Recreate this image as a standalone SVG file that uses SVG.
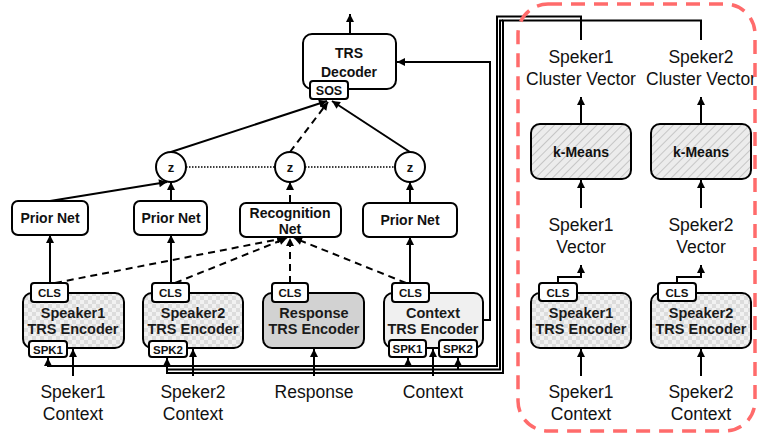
<svg xmlns="http://www.w3.org/2000/svg" width="758" height="437" viewBox="0 0 758 437">
  <defs>
    <pattern id="checker" width="8" height="8" patternUnits="userSpaceOnUse">
      <rect width="8" height="8" fill="#f1f1f1"/>
      <rect width="4" height="4" fill="#dcdcdc"/>
      <rect x="4" y="4" width="4" height="4" fill="#dcdcdc"/>
    </pattern>
    <pattern id="hatch" width="6" height="6" patternUnits="userSpaceOnUse" patternTransform="rotate(45)">
      <rect width="6" height="6" fill="#ececec"/>
      <line x1="0" y1="0" x2="0" y2="6" stroke="#bdbdbd" stroke-width="1.6"/>
    </pattern>
    <marker id="ah" viewBox="0 0 10 10" refX="10" refY="5" markerWidth="9" markerHeight="8" markerUnits="userSpaceOnUse" orient="auto">
      <path d="M0,0 L10,5 L0,10 z" fill="#000"/>
    </marker>
  </defs>
  <style>
    .box { stroke: #000; stroke-width: 2; fill: #fff; }
    .tag { stroke: #000; stroke-width: 2; fill: #fff; }
    .b { font-family: "Liberation Sans", Arial, sans-serif; font-weight: bold; font-size: 14px; text-anchor: middle; fill: #111; }
    .t { font-family: "Liberation Sans", Arial, sans-serif; font-weight: bold; font-size: 11.5px; text-anchor: middle; fill: #111; }
    .z { font-family: "Liberation Sans", Arial, sans-serif; font-weight: bold; font-size: 13px; text-anchor: middle; fill: #111; }
    .sos { font-family: "Liberation Sans", Arial, sans-serif; font-weight: bold; font-size: 12.5px; text-anchor: middle; fill: #111; }
    .lbl { font-family: "Liberation Sans", Arial, sans-serif; font-size: 17.5px; text-anchor: middle; fill: #111; }
    .enc { font-family: "Liberation Sans", Arial, sans-serif; font-weight: bold; font-size: 14.5px; text-anchor: middle; fill: #1a1a1a; }
    .c { fill: none; stroke: #000; stroke-width: 2; }
    .a { marker-end: url(#ah); }
    .d { stroke-dasharray: 7 5; }
    .dot { fill: none; stroke: #000; stroke-width: 1.5; stroke-dasharray: 1.5 1.5; }
  </style>

  <!-- connectors -->
  <g id="connectors">
    <!-- dotted link between latent variables -->
    <line class="dot" x1="186" y1="167" x2="275" y2="167"/>
    <line class="dot" x1="305" y1="167" x2="395" y2="167"/>

    <!-- encoders to prior nets -->
    <path class="c a" d="M50,283 L50,235"/>
    <path class="c a" d="M171,283 L171,235"/>
    <path class="c a" d="M410,283 L410,237"/>

    <!-- encoders to recognition net -->
    <path class="c d a" d="M55,283 L285,238"/>
    <path class="c d a" d="M175,283 L287,238"/>
    <path class="c d a" d="M290,283 L290,238"/>
    <path class="c d a" d="M406,283 L294,238"/>

    <!-- nets to latent z -->
    <path class="c a" d="M50,201 L167,182"/>
    <path class="c a" d="M171,201 L171,182"/>
    <path class="c d a" d="M290,202 L290,182"/>
    <path class="c a" d="M410,203 L410,182"/>

    <!-- latent z to decoder SOS -->
    <path class="c a" d="M171,152 L327,101"/>
    <path class="c d a" d="M290,152 L328,102"/>
    <path class="c a" d="M410,152 L332,101"/>

    <!-- decoder output -->
    <path class="c a" d="M350,34 L350,14"/>

    <!-- context encoder to decoder -->
    <path class="c a" d="M483,320 L490,320 L490,62 L397,62"/>

    <!-- inputs -->
    <path class="c a" d="M73,376 L73,349"/>
    <path class="c a" d="M193,376 L193,349"/>
    <path class="c a" d="M314,376 L314,349"/>
    <path class="c a" d="M433,376 L433,349"/>

    <!-- speaker cluster vectors routed back to SPK tokens -->
    <path class="c a" d="M581,40 L581,16.5 L497,16.5 L497,366 L48,366 L48,358"/>
    <path class="c a" d="M408,366 L408,358"/>
    <path class="c a" d="M701,40 L701,20.5 L503,20.5 L503,373 L167,373 L167,358"/>
    <path class="c" d="M503,20.5 L500,20.5 L500,369.5 L167,369.5"/>
    <path class="c a" d="M458,369.5 L458,358"/>

    <!-- clustering branch -->
    <path class="c a" d="M581,124 L581,97"/>
    <path class="c a" d="M701,124 L701,97"/>
    <path class="c a" d="M581,208 L581,180"/>
    <path class="c a" d="M701,208 L701,180"/>
    <path class="c a" d="M558,283 L558,277 L581,277 L581,265"/>
    <path class="c a" d="M677,283 L677,277 L701,277 L701,265"/>
    <path class="c a" d="M581,376 L581,349"/>
    <path class="c a" d="M701,376 L701,349"/>
  </g>

  <!-- decoder -->
  <g id="trs-decoder">
    <rect class="box" x="303" y="34" width="93" height="55" rx="9"/>
    <text class="b" x="349" y="58">TRS</text>
    <text class="b" x="349" y="77">Decoder</text>
    <rect class="tag" x="310" y="81" width="38" height="18" rx="3"/>
    <text class="sos" x="329" y="95">SOS</text>
  </g>

  <!-- latent variables -->
  <g id="z1">
    <circle class="box" cx="171" cy="167" r="15"/>
    <text class="z" x="171" y="172">z</text>
  </g>
  <g id="z2">
    <circle class="box" cx="290" cy="167" r="15"/>
    <text class="z" x="290" y="172">z</text>
  </g>
  <g id="z3">
    <circle class="box" cx="410" cy="167" r="15"/>
    <text class="z" x="410" y="172">z</text>
  </g>

  <!-- prior / recognition nets -->
  <g id="prior-net-1">
    <rect class="box" x="12" y="201" width="76" height="34" rx="6"/>
    <text class="b" x="50" y="223">Prior Net</text>
  </g>
  <g id="prior-net-2">
    <rect class="box" x="134" y="201" width="73" height="34" rx="6"/>
    <text class="b" x="171" y="223">Prior Net</text>
  </g>
  <g id="recognition-net">
    <rect class="box" x="240" y="203" width="101" height="34" rx="6"/>
    <text class="b" x="290" y="218">Recognition</text>
    <text class="b" x="290" y="234">Net</text>
  </g>
  <g id="prior-net-3">
    <rect class="box" x="363" y="203" width="94" height="34" rx="6"/>
    <text class="b" x="410" y="225">Prior Net</text>
  </g>

  <!-- encoders -->
  <g id="speaker1-encoder">
    <rect class="box" x="23" y="293" width="101" height="55" rx="9" style="fill:url(#checker)"/>
    <text class="enc" x="73" y="318">Speaker1</text>
    <text class="enc" x="73" y="334">TRS Encoder</text>
    <rect class="tag" x="31" y="283" width="37" height="19" rx="3"/>
    <text class="t" x="49.5" y="297">CLS</text>
    <rect class="tag" x="29" y="341" width="38" height="16" rx="3"/>
    <text class="t" x="48" y="353.5">SPK1</text>
  </g>
  <g id="speaker2-encoder">
    <rect class="box" x="143" y="293" width="100" height="55" rx="9" style="fill:url(#checker)"/>
    <text class="enc" x="193" y="318">Speaker2</text>
    <text class="enc" x="193" y="334">TRS Encoder</text>
    <rect class="tag" x="152" y="283" width="37" height="19" rx="3"/>
    <text class="t" x="170.5" y="297">CLS</text>
    <rect class="tag" x="149" y="341" width="38" height="16" rx="3"/>
    <text class="t" x="168" y="353.5">SPK2</text>
  </g>
  <g id="response-encoder">
    <rect class="box" x="263" y="293" width="101" height="55" rx="9" style="fill:#d2d2d2"/>
    <text class="enc" x="314" y="318">Response</text>
    <text class="enc" x="314" y="334">TRS Encoder</text>
    <rect class="tag" x="272" y="283" width="36" height="19" rx="3"/>
    <text class="t" x="290" y="297">CLS</text>
  </g>
  <g id="context-encoder">
    <rect class="box" x="384" y="293" width="99" height="55" rx="9" style="fill:#f0f0f0"/>
    <text class="enc" x="433" y="318">Context</text>
    <text class="enc" x="433" y="334">TRS Encoder</text>
    <rect class="tag" x="392" y="283" width="37" height="19" rx="3"/>
    <text class="t" x="410.5" y="297">CLS</text>
    <rect class="tag" x="389" y="340" width="37" height="17" rx="3"/>
    <text class="t" x="407.5" y="353">SPK1</text>
    <rect class="tag" x="439" y="340" width="38" height="17" rx="3"/>
    <text class="t" x="458" y="353">SPK2</text>
  </g>

  <!-- input labels -->
  <g id="inputs">
    <text class="lbl" x="73" y="398">Speker1</text>
    <text class="lbl" x="73" y="420">Context</text>
    <text class="lbl" x="193" y="398">Speker2</text>
    <text class="lbl" x="193" y="420">Context</text>
    <text class="lbl" x="314" y="398">Response</text>
    <text class="lbl" x="433" y="398">Context</text>
  </g>

  <!-- speaker clustering branch -->
  <g id="cluster-vector-1">
    <text class="lbl" x="581" y="63">Speker1</text>
    <text class="lbl" x="581" y="85">Cluster Vector</text>
  </g>
  <g id="cluster-vector-2">
    <text class="lbl" x="701" y="63">Speker2</text>
    <text class="lbl" x="701" y="85">Cluster Vector</text>
  </g>
  <g id="kmeans-1">
    <rect class="box" x="531" y="124" width="100" height="55" rx="9" style="fill:url(#hatch)"/>
    <text class="b" x="581" y="157">k-Means</text>
  </g>
  <g id="kmeans-2">
    <rect class="box" x="651" y="124" width="100" height="55" rx="9" style="fill:url(#hatch)"/>
    <text class="b" x="701" y="157">k-Means</text>
  </g>
  <g id="speaker-vector-1">
    <text class="lbl" x="581" y="231">Speker1</text>
    <text class="lbl" x="581" y="253">Vector</text>
  </g>
  <g id="speaker-vector-2">
    <text class="lbl" x="701" y="231">Speker2</text>
    <text class="lbl" x="701" y="253">Vector</text>
  </g>
  <g id="speaker1-encoder-r">
    <rect class="box" x="531" y="293" width="100" height="55" rx="9" style="fill:url(#checker)"/>
    <text class="enc" x="581" y="318">Speaker1</text>
    <text class="enc" x="581" y="334">TRS Encoder</text>
    <rect class="tag" x="539" y="283" width="38" height="18" rx="3"/>
    <text class="t" x="558" y="296.5">CLS</text>
  </g>
  <g id="speaker2-encoder-r">
    <rect class="box" x="651" y="293" width="100" height="55" rx="9" style="fill:url(#checker)"/>
    <text class="enc" x="701" y="318">Speaker2</text>
    <text class="enc" x="701" y="334">TRS Encoder</text>
    <rect class="tag" x="658" y="283" width="38" height="18" rx="3"/>
    <text class="t" x="677" y="296.5">CLS</text>
  </g>
  <g id="cluster-inputs">
    <text class="lbl" x="581" y="398">Speker1</text>
    <text class="lbl" x="581" y="420">Context</text>
    <text class="lbl" x="701" y="398">Speker2</text>
    <text class="lbl" x="701" y="420">Context</text>
  </g>

  <!-- offline clustering region -->
  <rect id="cluster-region" x="518" y="4" width="237" height="427" rx="30" fill="none" stroke="#ff6b6b" stroke-width="3.5" stroke-dasharray="14 9"/>
</svg>
